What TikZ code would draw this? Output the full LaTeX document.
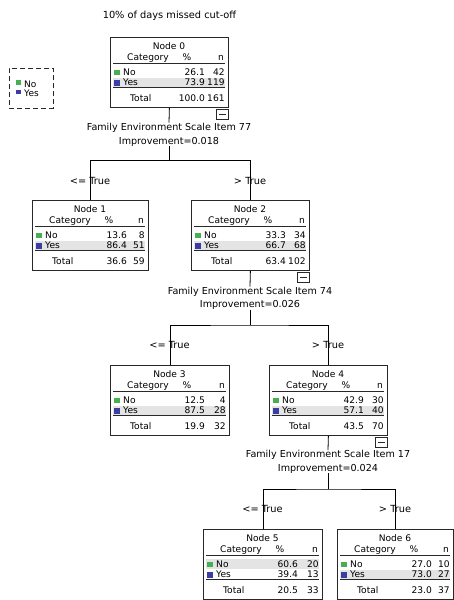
\documentclass[tikz,border=0pt]{standalone}
\usepackage{fontspec}
\setmainfont{DejaVu Sans}
\definecolor{nogreen}{RGB}{70,175,80}
\definecolor{yesblue}{RGB}{60,60,165}
\definecolor{rowgray}{RGB}{228,228,228}
\definecolor{framegray}{RGB}{40,40,40}
\tikzset{
  treebox/.style={draw=framegray, line width=0.8pt, minimum height=70pt, inner sep=0pt, anchor=north west},
  celltext/.style={inner sep=0pt, font=\fontsize{9.1}{11}\selectfont},
  splittext/.style={inner sep=0pt, font=\fontsize{9.6}{12}\selectfont, anchor=base},
  branchtext/.style={inner sep=0pt, font=\fontsize{9.8}{12}\selectfont, anchor=base},
  titletext/.style={inner sep=0pt, font=\fontsize{9.8}{12}\selectfont, anchor=base},
  legendtext/.style={inner sep=0pt, font=\fontsize{9}{11}\selectfont, anchor=base west},
  conn/.style={draw=black, line width=0.8pt},
  tablerule/.style={draw=framegray, line width=1pt},
  collapsebox/.style={draw=framegray, line width=0.7pt, minimum width=12pt, minimum height=10pt, inner sep=0pt, anchor=north east},
  legendbox/.style={draw=framegray, line width=0.8pt, dash pattern=on 5pt off 3pt, minimum width=44pt, minimum height=40pt, inner sep=0pt, anchor=north west},
}
% #1 name, #2 left, #3 top, #4 width, #5 node number, #6 top of shaded row
\newcommand\mkbox[6]{%
  \node[treebox, minimum width=#4pt] (#1) at (#2,#3) {};
  \begin{scope}[shift={(#1.north west)}]
    \fill[rowgray] (3,#6) rectangle (#4-3,#6+9.5);
    \node[celltext, anchor=base] (#1-title) at (#4/2,12) {Node #5};
    \node[celltext, anchor=base west] (#1-cat) at (17,23.5) {Category};
    \node[celltext, anchor=base] (#1-pcth) at (77,23.5) {\%};
    \node[celltext, anchor=base east] (#1-nh) at (#4-4,23.5) {n};
    \draw[tablerule] (3,26) -- (#4-3,26);
    \fill[nogreen] (4,32.5) rectangle (9.5,38);
    \node[celltext, anchor=base west] (#1-no) at (13,38) {No};
    \fill[yesblue] (4,43) rectangle (9.5,48.5);
    \node[celltext, anchor=base west] (#1-yes) at (13,48.5) {Yes};
    \draw[tablerule] (3,50.5) -- (#4-3,50.5);
    \node[celltext, anchor=base west] (#1-tot) at (20,64) {Total};
  \end{scope}}
% #1 name, #2..#7 values
\newcommand\mkvals[7]{%
  \begin{scope}[shift={(#1.north west)}]
    \node[celltext, anchor=base east] (#1-nop) at (95,38) {#2};
    \node[celltext, anchor=base east] (#1-yesp) at (95,48.5) {#4};
    \node[celltext, anchor=base east] (#1-totp) at (95,64) {#6};
  \end{scope}
  \begin{scope}[shift={(#1.north east)}]
    \node[celltext, anchor=base east] (#1-non) at (-4,38) {#3};
    \node[celltext, anchor=base east] (#1-yesn) at (-4,48.5) {#5};
    \node[celltext, anchor=base east] (#1-totn) at (-4,64) {#7};
  \end{scope}}
\newcommand\mkcollapse[2]{%
  \node[collapsebox] (#2) at ([yshift=-1pt]#1.south east) {};
  \draw[line width=0.8pt, framegray] ([xshift=3pt]#2.west) -- ([xshift=-3pt]#2.east);}
\begin{document}
\begin{tikzpicture}[x=1pt,y=-1pt]
\useasboundingbox (0,0) rectangle (454,600);
% title
\node[titletext] (title) at (169.5,18.5) {10\% of days missed cut-off};
% legend
\node[legendbox] (legend) at (9,68) {};
\fill[nogreen] (16,80) rectangle (20.5,84.5);
\node[legendtext] (legno) at (24,87) {No};
\fill[yesblue] (16,89.5) rectangle (20.5,94);
\node[legendtext] (legyes) at (24,96.5) {Yes};
% boxes
\mkbox{n0}{110}{37}{118}{0}{41}
\mkvals{n0}{26.1}{42}{73.9}{119}{100.0}{161}
\mkbox{n1}{32}{200}{116}{1}{41}
\mkvals{n1}{13.6}{8}{86.4}{51}{36.6}{59}
\mkbox{n2}{191}{200}{118}{2}{41}
\mkvals{n2}{33.3}{34}{66.7}{68}{63.4}{102}
\mkbox{n3}{110}{365}{119}{3}{41}
\mkvals{n3}{12.5}{4}{87.5}{28}{19.9}{32}
\mkbox{n4}{269}{365}{118}{4}{41}
\mkvals{n4}{42.9}{30}{57.1}{40}{43.5}{70}
\mkbox{n5}{203}{529}{119}{5}{30}
\mkvals{n5}{60.6}{20}{39.4}{13}{20.5}{33}
\mkbox{n6}{337}{529}{116}{6}{41}
\mkvals{n6}{27.0}{10}{73.0}{27}{23.0}{37}
% collapse boxes
\mkcollapse{n0}{c0}
\mkcollapse{n2}{c2}
\mkcollapse{n4}{c4}
% split 0
\node[splittext] (s0a) at (169,130) {Family Environment Scale Item 77};
\node[splittext] (s0b) at (169,144) {Improvement=0.018};
\coordinate (j0) at (169,160.5);
\draw[conn] (n0.south) -- (s0a.north);
\draw[conn] (s0b.south) -- (j0);
\draw[conn] (n1.north) |- (j0) -| (n2.north);
\node[branchtext] (b1) at (90,184) {<= True};
\node[branchtext] (b2) at (250,184) {> True};
% split 2
\node[splittext] (s2a) at (250,294) {Family Environment Scale Item 74};
\node[splittext] (s2b) at (250,307.5) {Improvement=0.026};
\coordinate (j2) at (250,325);
\draw[conn] (n2.south) -- (s2a.north);
\draw[conn] (s2b.south) -- (j2);
\draw[conn] (n3.north) |- (j2) -| (n4.north);
\node[branchtext] (b3) at (169.5,348.5) {<= True};
\node[branchtext] (b4) at (328,348.5) {> True};
% split 4
\node[splittext] (s4a) at (328,457.5) {Family Environment Scale Item 17};
\node[splittext] (s4b) at (328,471) {Improvement=0.024};
\coordinate (j4) at (328,489);
\draw[conn] (n4.south) -- (s4a.north);
\draw[conn] (s4b.south) -- (j4);
\draw[conn] (n5.north) |- (j4) -| (n6.north);
\node[branchtext] (b5) at (262.5,512) {<= True};
\node[branchtext] (b6) at (395,512) {> True};
\end{tikzpicture}
\end{document}
